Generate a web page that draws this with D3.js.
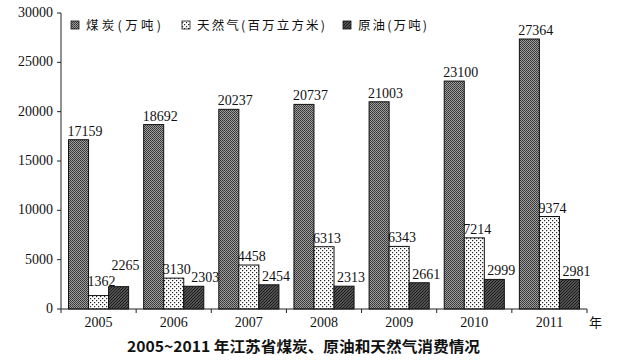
<!DOCTYPE html>
<html><head><meta charset="utf-8">
<script src="https://cdn.jsdelivr.net/npm/d3@7"></script>
<style>body{margin:0;background:#fff}svg{display:block}</style>
</head><body>
<svg id="c" width="625" height="361"></svg>
<script>
const years = ["2005","2006","2007","2008","2009","2010","2011"];
const coal = [17159,18692,20237,20737,21003,23100,27364];
const gas = [1362,3130,4458,6313,6343,7214,9374];
const oil = [2265,2303,2454,2313,2661,2999,2981];
const seriesNames = ["煤炭(万吨)","天然气(百万立方米)","原油(万吨)"];
const yTicks = [0,5000,10000,15000,20000,25000,30000];
const title = "2005~2011 年江苏省煤炭、原油和天然气消费情况";

const svg = d3.select("#c");
const defs = svg.append("defs");
// coal pattern: fine crosshatch
const p1 = defs.append("pattern").attr("id","pCoal").attr("width",2).attr("height",2).attr("patternUnits","userSpaceOnUse");
p1.append("rect").attr("width",2).attr("height",2).attr("fill","#9c9c9c");
p1.append("rect").attr("x",0).attr("y",0).attr("width",1).attr("height",1).attr("fill","#333");
p1.append("rect").attr("x",1).attr("y",1).attr("width",1).attr("height",1).attr("fill","#444");
// gas pattern: dots
const p2 = defs.append("pattern").attr("id","pGas").attr("width",4).attr("height",4).attr("patternUnits","userSpaceOnUse");
p2.append("rect").attr("width",4).attr("height",4).attr("fill","#fff");
p2.append("rect").attr("x",0).attr("y",0).attr("width",1.2).attr("height",1.2).attr("fill","#222");
p2.append("rect").attr("x",2).attr("y",2).attr("width",1.2).attr("height",1.2).attr("fill","#222");
// oil pattern: dark diagonal hatch
const p3 = defs.append("pattern").attr("id","pOil").attr("width",3).attr("height",3).attr("patternUnits","userSpaceOnUse");
p3.append("rect").attr("width",3).attr("height",3).attr("fill","#7c7c7c");
p3.append("path").attr("d","M0,3 L3,0 M-1,1 L1,-1 M2,4 L4,2").attr("stroke","#1c1c1c").attr("stroke-width",1.3);
const fills = ["url(#pCoal)","url(#pGas)","url(#pOil)"];
const series = [coal,gas,oil];
const labelDx = [-1,-1,3];

const x0 = 61, x1 = 587, yBase = 309, yTop = 13;
const x = d3.scaleBand().domain(years).range([x0,x1]).paddingInner(0.2).paddingOuter(0.1);
const xs = d3.scaleBand().domain([0,1,2]).range([0,x.bandwidth()]);
const y = d3.scaleLinear().domain([0,30000]).range([yBase,yTop]);

// bars
const barLayer = svg.append("g"), labelLayer = svg.append("g");
const labelSel = [];
series.forEach((vals,si)=>{
  barLayer.append("g").selectAll("rect").data(vals).join("rect")
    .attr("x",(d,i)=>x(years[i])+xs(si))
    .attr("y",d=>y(d))
    .attr("width",xs.bandwidth())
    .attr("height",d=>yBase-y(d))
    .attr("fill",fills[si]).attr("stroke","#111").attr("stroke-width",1);
  labelSel[si] = labelLayer.append("g").selectAll("text").data(vals).join("text")
    .attr("x",(d,i)=>x(years[i])+xs(si)+labelDx[si])
    .attr("y",(d,i)=> si===1 && gas[i] < oil[i] ? Math.min(y(d)-4, y(oil[i])-1) : y(d)-4)
    .attr("font-family","Liberation Serif, serif").attr("font-size",14)
    .attr("fill","#111")
    .text(d=>d);
});
// avoid label collisions between gas and oil labels
const gasNodes = labelSel[1].nodes(), oilNodes = labelSel[2].nodes();
oilNodes.forEach((on,i)=>{
  const gb = gasNodes[i].getBBox(), ob = on.getBBox();
  const hOver = ob.x < gb.x+gb.width && gb.x < ob.x+ob.width;
  const vOver = ob.y < gb.y+gb.height && gb.y < ob.y+ob.height;
  if (hOver && vOver) {
    if (gas[i] < oil[i]) {
      const dy = (ob.y+ob.height) - gb.y + 1;
      on.setAttribute("y", +on.getAttribute("y") - dy);
    } else {
      on.setAttribute("x", gb.x+gb.width+0.5);
    }
  }
});

// y axis
const ya = svg.append("g");
ya.append("line").attr("x1",x0).attr("x2",x0).attr("y1",yTop).attr("y2",yBase).attr("stroke","#222");
ya.selectAll(".t").data(yTicks).join("line")
  .attr("x1",x0-4).attr("x2",x0).attr("y1",d=>y(d)).attr("y2",d=>y(d)).attr("stroke","#222");
ya.selectAll("text").data(yTicks).join("text")
  .attr("x",x0-8).attr("y",d=>y(d)+4).attr("text-anchor","end")
  .attr("font-family","Liberation Serif, serif").attr("font-size",14).attr("fill","#111")
  .text(d=>d);

// x axis
const xa = svg.append("g");
xa.append("line").attr("x1",x0).attr("x2",x1).attr("y1",yBase).attr("y2",yBase).attr("stroke","#222");
const step = x.step();
const bounds = d3.range(years.length+1).map(i=>x0+i*step);
xa.selectAll(".t").data(bounds).join("line")
  .attr("x1",d=>d).attr("x2",d=>d).attr("y1",yBase).attr("y2",yBase+4).attr("stroke","#222");
xa.selectAll("text").data(years).join("text")
  .attr("x",d=>x(d)+x.bandwidth()/2).attr("y",yBase+18).attr("text-anchor","middle")
  .attr("font-family","Liberation Serif, serif").attr("font-size",14).attr("fill","#111")
  .text(d=>d);
svg.append("text").attr("x",x1+2).attr("y",yBase+18)
  .attr("font-family","Noto Sans CJK SC").attr("font-size",13).attr("fill","#111").text("年");

// legend
const legX = [71,182,343];
const legW = [75,128,69];
seriesNames.forEach((n,i)=>{
  svg.append("rect").attr("x",legX[i]).attr("y",21).attr("width",8).attr("height",8)
    .attr("fill",fills[i]).attr("stroke","#111").attr("stroke-width",0.8);
  svg.append("text").attr("x",legX[i]+15).attr("y",29.5)
    .attr("font-family","Noto Sans CJK SC").attr("font-size",12.5).attr("fill","#111")
    .attr("textLength",legW[i]).attr("lengthAdjust","spacing")
    .text(n);
});

// title
svg.append("text").attr("x",127).attr("y",352)
  .attr("font-family","Noto Sans CJK SC").attr("font-weight","bold").attr("font-size",15).attr("fill","#111")
  .attr("textLength",353).attr("lengthAdjust","spacingAndGlyphs")
  .text(title);
</script>
</body></html>
